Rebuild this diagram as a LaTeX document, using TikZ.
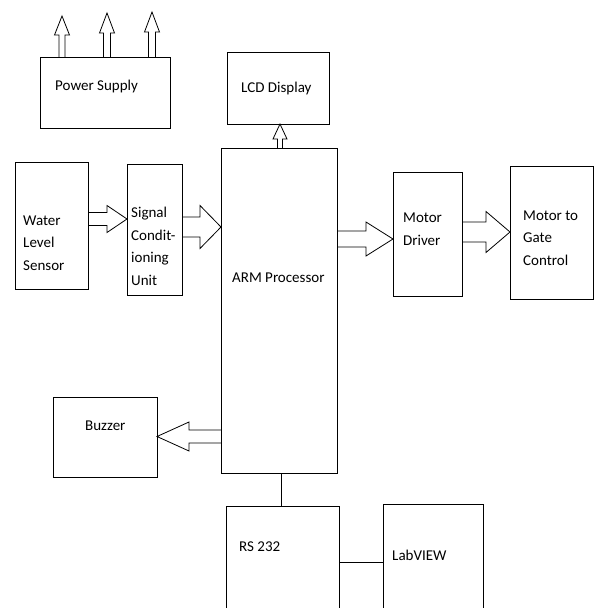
\documentclass[tikz,border=0pt]{standalone}
\usepackage{fontspec}
\setmainfont{Carlito}
\usetikzlibrary{calc}

% hollow block arrow: tail, tip, shaft half width, head half width, head length
\newcommand{\hollowarrow}[5]{%
  \coordinate (ha-t) at (#1);
  \coordinate (ha-p) at (#2);
  \coordinate (ha-h) at ($(ha-p)!#5!(ha-t)$);
  \draw[blockarrow] ($(ha-t)!#3!90:(ha-p)$) -- ($(ha-h)!#3!90:(ha-p)$)
    -- ($(ha-h)!#4!90:(ha-p)$) -- (ha-p) -- ($(ha-h)!#4!-90:(ha-p)$)
    -- ($(ha-h)!#3!-90:(ha-p)$) -- ($(ha-t)!#3!-90:(ha-p)$);
}

\begin{document}
\begin{tikzpicture}[x=1pt, y=-1pt,
  box/.style={draw, line width=0.8pt, inner sep=0pt, outer sep=0pt},
  lbl/.style={anchor=base west, inner sep=0pt, align=left,
    font=\fontsize{15}{22.5}\selectfont},
  blockarrow/.style={draw, line width=0.8pt, line join=miter}]
\clip (0,0) rectangle (594,608);
% blocks
\node[box, minimum width=130pt, minimum height=71pt] (ps) at (105,92.5) {};
\node[box, minimum width=102pt, minimum height=72pt] (lcd) at (278,88) {};
\node[box, minimum width=116pt, minimum height=325pt] (arm) at (279,310.5) {};
\node[box, minimum width=73pt, minimum height=127pt] (wls) at (51.5,225.5) {};
\node[box, minimum width=55pt, minimum height=131pt] (scu) at (154.5,229.5) {};
\node[box, minimum width=69pt, minimum height=124pt] (md) at (427.5,234) {};
\node[box, minimum width=83pt, minimum height=133pt] (mgc) at (551.5,232.5) {};
\node[box, minimum width=104pt, minimum height=80pt] (buz) at (105,437) {};
\node[box, minimum width=113pt, minimum height=114pt] (rs) at (282.5,563) {};
\node[box, minimum width=100pt, minimum height=116pt] (lab) at (433,562) {};
% labels (base = last line)
\node[lbl] (ps-t) at (55,90) {Power Supply};
\node[lbl] (lcd-t) at (241,92) {LCD Display};
\node[lbl] (arm-t) at (232,282) {ARM Processor};
\node[lbl] (wls-t) at (23,270) {Water\\Level\\Sensor};
\node[lbl] (scu-t) at (131,285) {Signal\\Condit-\\ioning\\Unit};
\node[lbl] (md-t) at (403,245) {Motor\\Driver};
\node[lbl] (mgc-t) at (523,265) {Motor to\\Gate\\Control};
\node[lbl] (buz-t) at (85,430) {Buzzer};
\node[lbl] (rs-t) at (239,551) {RS 232};
\node[lbl] (lab-t) at (392,560) {LabVIEW};
% power outputs
\hollowarrow{ps.north -| 62,0}{62,16}{3pt}{7.5pt}{19pt}
\hollowarrow{ps.north -| 107,0}{107,13}{3.5pt}{7.5pt}{20pt}
\hollowarrow{ps.north -| 152,0}{152,12}{3.5pt}{7.5pt}{20pt}
% signal path
\hollowarrow{arm.north -| 280,0}{lcd.south -| 280,0}{2.5pt}{7pt}{15pt}
\hollowarrow{wls.east |- 0,219}{scu.west |- 0,219}{6.5pt}{13.5pt}{20pt}
\hollowarrow{scu.east |- 0,227}{arm.west |- 0,227}{10pt}{21.5pt}{21pt}
\hollowarrow{arm.east |- 0,239}{md.west |- 0,239}{8pt}{17pt}{27pt}
\hollowarrow{md.east |- 0,232}{mgc.west |- 0,232}{10pt}{20.5pt}{24pt}
\hollowarrow{arm.west |- 0,436.5}{buz.east |- 0,436.5}{6.5pt}{14.5pt}{32pt}
% serial link
\draw[line width=0.8pt] (arm.south -| 281,0) -- (rs.north -| 281,0);
\draw[line width=0.8pt] (rs.east |- 0,562) -- (lab.west |- 0,562);
\end{tikzpicture}
\end{document}
